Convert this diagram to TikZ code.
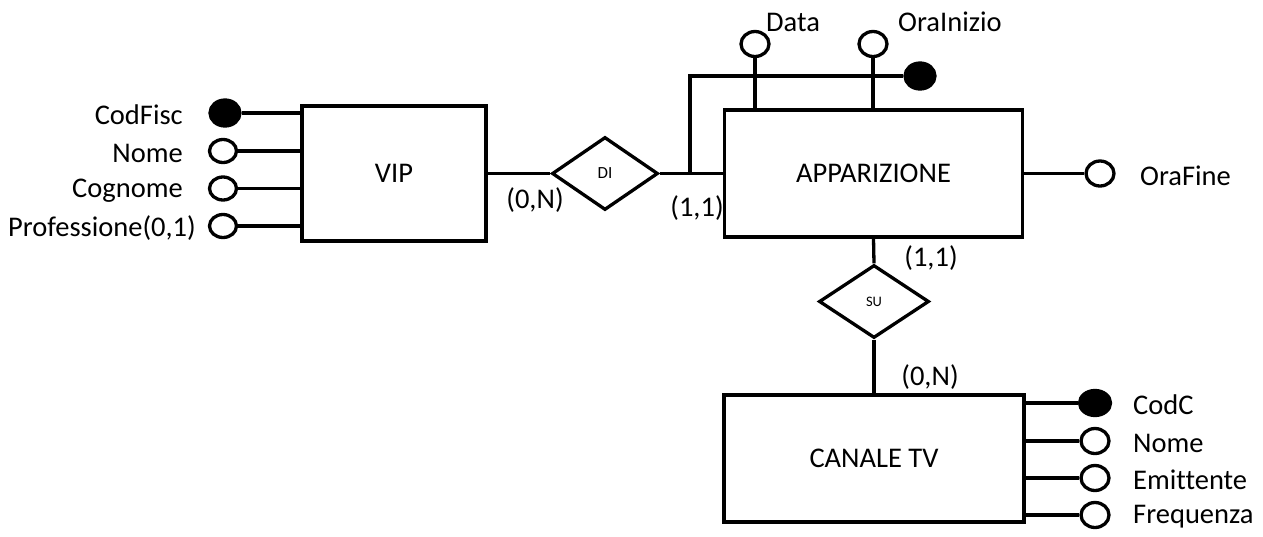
\documentclass[tikz,border=0pt]{standalone}
\usepackage{fontspec}
\setmainfont{Carlito}[Ligatures=NoCommon]
\usetikzlibrary{shapes.geometric}
\begin{document}
\begin{tikzpicture}[x=1pt,y=-1pt,
  lw/.style={line width=3.3pt},
  entity/.style={draw,lw,rectangle,inner sep=0pt,font=\fontsize{28.5}{32}\selectfont},
  rel/.style={draw,lw,diamond,inner sep=0pt},
  attr/.style={draw,lw,ellipse,inner sep=0pt,minimum width=27pt,minimum height=23pt,fill=white},
  key/.style={draw,lw,ellipse,inner sep=0pt,minimum width=30pt,minimum height=26pt,fill=black},
  lbl/.style={inner sep=0pt,font=\fontsize{28.5}{32}\selectfont},
  conn/.style={lw}
]
\useasboundingbox (0,0) rectangle (1263,536);
% entities
\node[entity,minimum width=184pt,minimum height=135pt] (vip) at (394,173.5) {VIP};
\node[entity,minimum width=298pt,minimum height=127pt] (app) at (873.5,173.5) {APPARIZIONE};
\node[entity,minimum width=300pt,minimum height=127pt] (can) at (874,458.5) {CANALE TV};
% relationships
\node[rel,minimum width=106pt,minimum height=73pt,font=\fontsize{17}{20}\selectfont] (di) at (605,173.5) {DI};
\node[rel,minimum width=110pt,minimum height=73pt,font=\fontsize{14.5}{17}\selectfont] (su) at (874,301.5) {SU};
\draw[conn] (vip.east) -- (di.west);
\draw[conn] (di.east) -- (app.west);
\draw[conn] (app.south) -- (su.north);
\draw[conn] (su.south) -- (can.north);
% VIP attributes
\node[key] (vcf) at (225,113) {};
\node[attr] (vno) at (223,151) {};
\node[attr] (vco) at (223,188.5) {};
\node[attr] (vpr) at (223,226) {};
\foreach \a in {vcf,vno,vco,vpr} \draw[conn] (\a.east) -- (vip.west |- \a);
\node[lbl,anchor=east] (lcf) at (183,115) {CodFisc};
\node[lbl,anchor=east] (lno) at (183,153) {Nome};
\node[lbl,anchor=east] (lco) at (183,190.5) {Cognome};
\node[lbl,anchor=east] (lpr) at (196,228) {Professione(0,1)};
% APPARIZIONE attributes
\node[attr,minimum width=28pt,minimum height=25pt] (ada) at (755,44) {};
\node[attr,minimum width=28pt,minimum height=25pt] (aoi) at (873,44) {};
\draw[conn] (ada.south) -- (ada |- app.north);
\draw[conn] (aoi.south) -- (aoi |- app.north);
\node[lbl,anchor=west] (lda) at (766,22) {Data};
\node[lbl,anchor=west] (loi) at (898,22) {OraInizio};
\coordinate (idb) at (690,173.5);
\node[key] (aid) at (920,76) {};
\draw[conn] (idb) |- (aid.west);
\node[attr,minimum width=28pt,minimum height=25pt] (aof) at (1100,173.5) {};
\draw[conn] (app.east) -- (aof.west);
\node[lbl,anchor=west] (lof) at (1140,176) {OraFine};
% CANALE TV attributes
\node[key,minimum width=31pt,minimum height=25pt] (ccc) at (1095,403) {};
\node[attr,minimum width=28pt,minimum height=25pt] (cno) at (1095,441) {};
\node[attr,minimum width=28pt,minimum height=25pt] (cem) at (1095,478) {};
\node[attr,minimum width=28pt,minimum height=25pt] (cfr) at (1095,515) {};
\foreach \a in {ccc,cno,cem,cfr} \draw[conn] (can.east |- \a) -- (\a.west);
\node[lbl,anchor=west] (lcc) at (1133,405) {CodC};
\node[lbl,anchor=west] (lcn) at (1133,443) {Nome};
\node[lbl,anchor=west] (lce) at (1133,480) {Emittente};
\node[lbl,anchor=west] (lcr) at (1133,517) {Frequenza};
% cardinalities
\node[lbl] (c1) at (535,200) {(0,N)};
\node[lbl] (c2) at (697,208) {(1,1)};
\node[lbl] (c3) at (931,258) {(1,1)};
\node[lbl] (c4) at (930,377) {(0,N)};
\end{tikzpicture}
\end{document}
